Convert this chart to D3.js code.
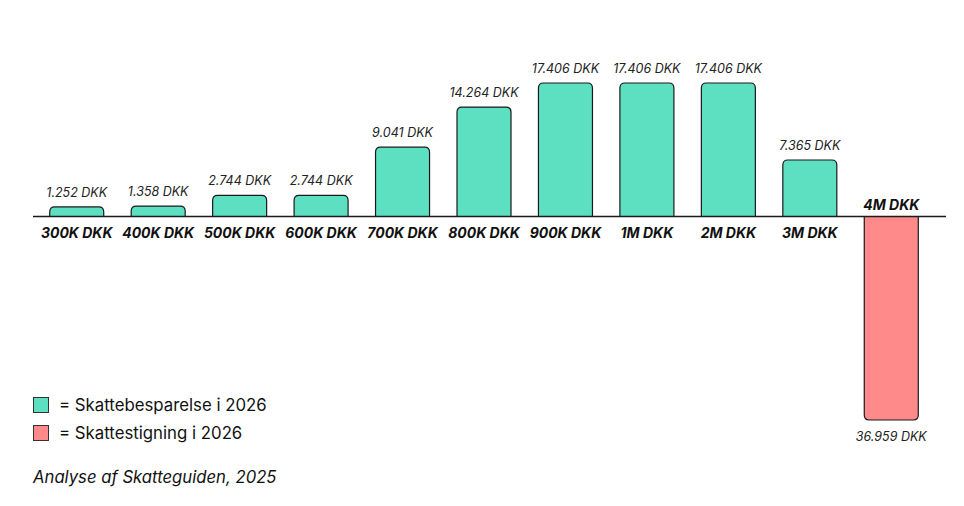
<!DOCTYPE html>
<html><head><meta charset="utf-8">
<script src="https://cdn.jsdelivr.net/npm/d3@7"></script>
<style>
html,body{margin:0;padding:0;background:#fff;}
svg{display:block;font-family:Inter,"Noto Sans",sans-serif;}
</style></head>
<body><svg id="c" width="964" height="506"></svg>
<script>
const categories = ["300K DKK","400K DKK","500K DKK","600K DKK","700K DKK","800K DKK","900K DKK","1M DKK","2M DKK","3M DKK","4M DKK"];
const values = [1252,1358,2744,2744,9041,14264,17406,17406,17406,7365,-36959];
const valueLabels = ["1.252 DKK","1.358 DKK","2.744 DKK","2.744 DKK","9.041 DKK","14.264 DKK","17.406 DKK","17.406 DKK","17.406 DKK","7.365 DKK","36.959 DKK"];
const legendItems = ["= Skattebesparelse i 2026","= Skattestigning i 2026"];
const footer = "Analyse af Skatteguiden, 2025";

const posColor = "#5de0c1", negColor = "#ff8a89", ink = "#1a1a1a";
const svg = d3.select("#c");
const x = d3.scaleBand().domain(categories).range([36,932]).paddingInner(0.337).paddingOuter(0.1685);
const y = d3.scaleLinear().domain([-36959,0,17406]).range([420,216.5,83]);
const r = 5;

function barPath(d){
  const x0 = x(d.c), w = x.bandwidth(), y0 = y(0), y1 = y(d.v);
  if (d.v >= 0) {
    return `M${x0},${y0}V${y1+r}Q${x0},${y1} ${x0+r},${y1}H${x0+w-r}Q${x0+w},${y1} ${x0+w},${y1+r}V${y0}`;
  } else {
    return `M${x0},${y0}V${y1-r}Q${x0},${y1} ${x0+r},${y1}H${x0+w-r}Q${x0+w},${y1} ${x0+w},${y1-r}V${y0}Z`;
  }
}
const data = categories.map((c,i)=>({c, v: values[i], l: valueLabels[i]}));

svg.append("g").selectAll("path").data(data).join("path")
  .attr("d", barPath)
  .attr("fill", d=>d.v>=0?posColor:negColor)
  .attr("stroke", ink).attr("stroke-width",1.2);

svg.append("line").attr("x1",33).attr("x2",946).attr("y1",y(0)).attr("y2",y(0))
  .attr("stroke",ink).attr("stroke-width",1.3);

svg.append("g").selectAll("text").data(data).join("text")
  .attr("x", d=>x(d.c)+x.bandwidth()/2)
  .attr("y", d=>d.v>=0 ? y(d.v)-10 : y(d.v)+21)
  .attr("text-anchor","middle").attr("font-size",12.5).attr("font-style","italic")
  .attr("fill","#222").text(d=>d.l);

svg.append("g").selectAll("text").data(data).join("text")
  .attr("x", d=>x(d.c)+x.bandwidth()/2)
  .attr("y", d=>d.v>=0 ? y(0)+21 : y(0)-7)
  .attr("text-anchor","middle").attr("font-size",14).attr("font-weight",700).attr("font-style","italic")
  .attr("fill","#111").text(d=>d.c);

const lg = svg.append("g");
legendItems.forEach((t,i)=>{
  lg.append("rect").attr("x",33.5).attr("y",397.5+i*28).attr("width",15).attr("height",15)
    .attr("fill", i===0?posColor:negColor).attr("stroke","#333").attr("stroke-width",1);
  lg.append("text").attr("x",59).attr("y",410.5+i*28).attr("font-size",16.8).attr("fill","#111").text(t);
});
svg.append("text").attr("x",33).attr("y",483).attr("font-size",16.7).attr("font-style","italic").attr("fill","#111").text(footer);
</script></body></html>
